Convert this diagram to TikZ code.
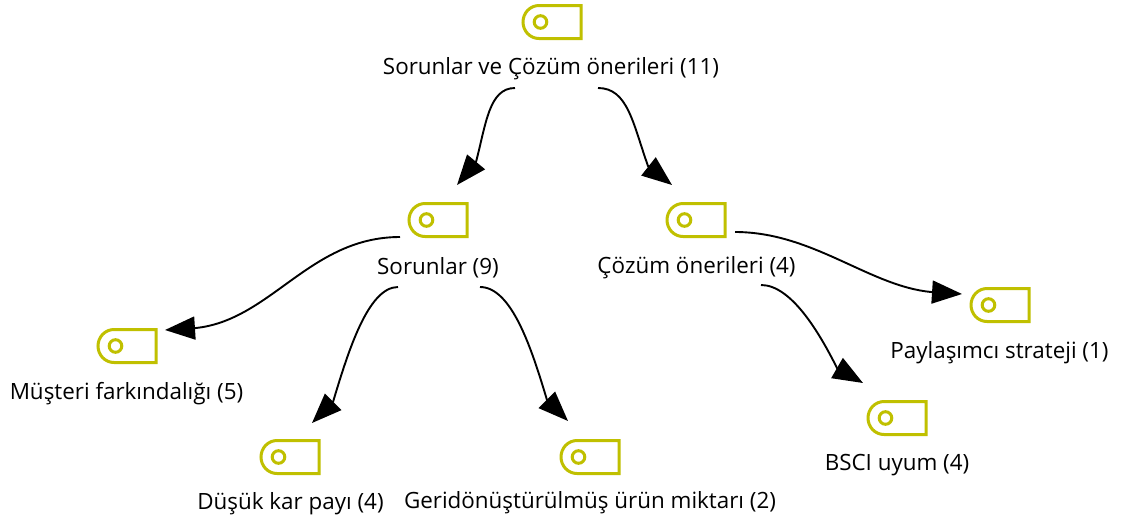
\documentclass[tikz,border=0pt]{standalone}
\usepackage{fontspec}
\setmainfont{Open Sans}
\usetikzlibrary{arrows.meta}
\definecolor{icony}{RGB}{192,192,0}
\tikzset{
  x=1pt,y=-1pt,
  iconbox/.style={minimum width=58pt,minimum height=33pt,inner sep=0pt,outer sep=0pt},
  iconline/.style={draw=icony,line width=3pt,line join=miter},
  lab/.style={font=\fontsize{22.4}{26}\selectfont,text=black,inner sep=0pt,anchor=center},
  conn/.style={draw=black,line width=1.9pt,-{Triangle[length=30pt,width=23pt]}}
}
\begin{document}
\begin{tikzpicture}
\useasboundingbox (0,0) rectangle (1124,520);
\fill[white] (0,0) rectangle (1124,520);
\node[iconbox] (i0) at (552,22) {};
\node[iconbox] (i1) at (438,220) {};
\node[iconbox] (i2) at (696,220) {};
\node[iconbox] (i3) at (127,346) {};
\node[iconbox] (i4) at (290,457) {};
\node[iconbox] (i5) at (590,457) {};
\node[iconbox] (i6) at (1000,305) {};
\node[iconbox] (i7) at (897,418) {};
\foreach \n in {i0,i1,i2,i3,i4,i5,i6,i7}{
  \draw[iconline] (\n.north east) -- (\n.south east) -- ([xshift=16pt]\n.south west)
    arc[start angle=270,end angle=90,x radius=16pt,y radius=16.5pt] -- cycle;
  \draw[iconline] ([xshift=17.5pt]\n.west) circle[radius=6.3pt];
}
\node[lab] (l0) at (551,69) {Sorunlar ve Çözüm önerileri (11)};
\node[lab] (l1) at (438,268) {Sorunlar (9)};
\node[lab] (l2) at (696.5,268) {Çözüm önerileri (4)};
\node[lab] (l3) at (126.5,394) {Müşteri farkındalığı (5)};
\node[lab] (l4) at (290.5,504) {Düşük kar payı (4)};
\node[lab] (l5) at (590,503) {Geridönüştürülmüş ürün miktarı (2)};
\node[lab] (l6) at (999.5,353) {Paylaşımcı strateji (1)};
\node[lab] (l7) at (897,465) {BSCI uyum (4)};
% connectors
\draw[conn] ([shift={(-36,19)}]l0.center) .. controls +(-26,0) and +(10,-38) .. ([shift={(38,-58)}]i1.center) -- ([shift={(19,-35)}]i1.center);
\draw[conn] ([shift={(47,19)}]l0.center) .. controls +(30,0) and +(-15,-42) .. ([shift={(-48,-54)}]i2.center) -- ([shift={(-24,-35)}]i2.center);
\draw[conn] ([shift={(-38,-31)}]l1.center) .. controls +(-90,0) and +(75,-8) .. ([shift={(69,-18)}]i3.center) -- ([shift={(38,-16)}]i3.center);
\draw[conn] ([shift={(-40,19)}]l1.center) .. controls +(-30,0) and +(15,-50) .. ([shift={(43,-55)}]i4.center) -- ([shift={(22,-34)}]i4.center);
\draw[conn] ([shift={(42,19)}]l1.center) .. controls +(32,0) and +(-15,-50) .. ([shift={(-43,-57)}]i5.center) -- ([shift={(-22,-36)}]i5.center);
\draw[conn] ([shift={(38.5,-36)}]l2.center) .. controls +(78,0) and +(-62,-6) .. ([shift={(-69,-13)}]i6.center) -- ([shift={(-38,-11)}]i6.center);
\draw[conn] ([shift={(64.5,17)}]l2.center) .. controls +(30,0) and +(-18,-36) .. ([shift={(-60,-50)}]i7.center) -- ([shift={(-34,-35)}]i7.center);
\end{tikzpicture}
\end{document}
